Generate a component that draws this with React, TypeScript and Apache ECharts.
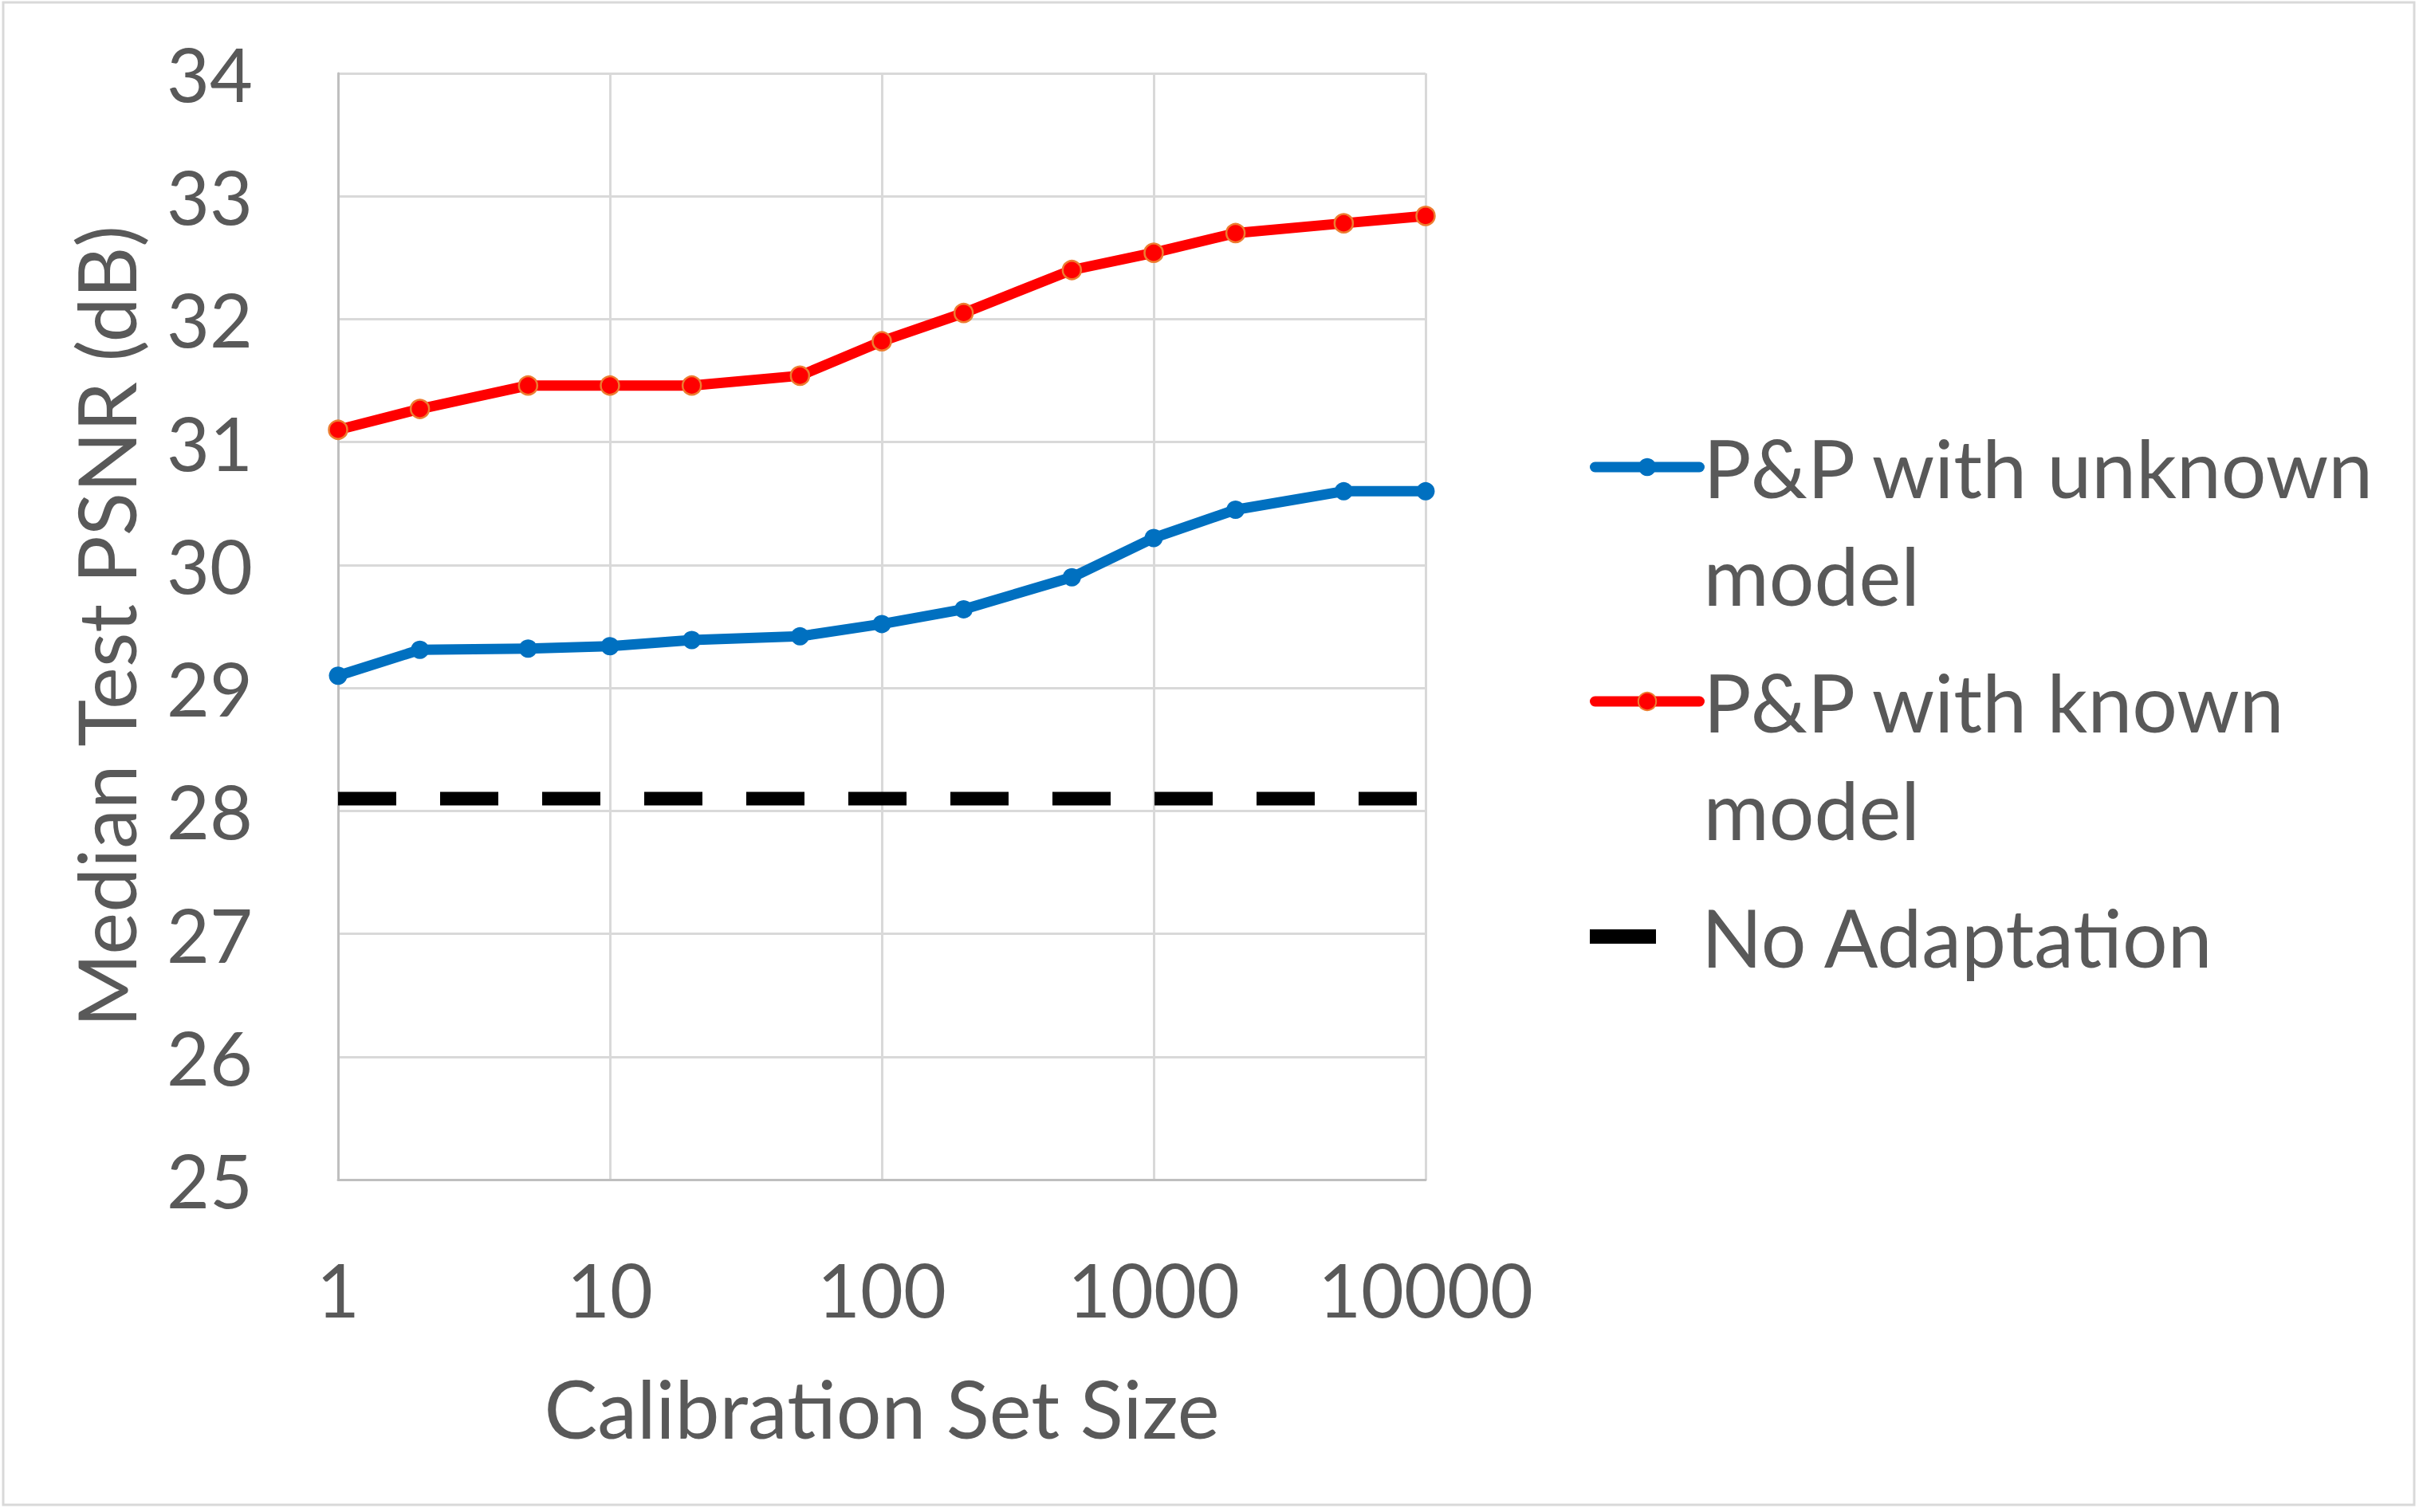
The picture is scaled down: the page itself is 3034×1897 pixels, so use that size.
import React, { useEffect, useRef } from "react";
import * as echarts from "echarts";

const calibrationSizes = [1, 2, 5, 10, 20, 50, 100, 200, 500, 1000, 2000, 5000, 10000];
const unknownModelPsnr = [29.1, 29.31, 29.32, 29.34, 29.39, 29.42, 29.52, 29.64, 29.9, 30.22, 30.45, 30.6, 30.6];
const knownModelPsnr = [31.1, 31.27, 31.46, 31.46, 31.46, 31.54, 31.82, 32.05, 32.4, 32.54, 32.7, 32.78, 32.84];
const noAdaptationPsnr = 28.1;
const seriesNames = ["P&P with unknown model", "P&P with known model", "No Adaptation"];
const legendLabels = ["P&P with unknown\nmodel", "P&P with known\nmodel", "No Adaptation"];
const xAxisRange = [1, 10000];
const yAxisRange = [25, 34];
const xAxisTitle = "Calibration Set Size";
const yAxisTitle = "Median Test PSNR (dB)";

const FONT = "Lato";
const TEXT = "#595959";
const FS = 93;
const FS_BIG = 100;
const LH = 135;

export default function App() {
  const ref = useRef<HTMLDivElement>(null);
  useEffect(() => {
    if (!ref.current) return;
    const chart = echarts.init(ref.current, undefined, { renderer: "svg" });
    const pair = (vals: number[]) => calibrationSizes.map((x, i) => [x, vals[i]]);
    const legendText = { fontFamily: FONT, fontSize: FS_BIG, color: TEXT, lineHeight: LH };
    chart.setOption({
      animation: false,
      backgroundColor: "#ffffff",
      textStyle: { fontFamily: FONT },
      grid: { left: 424, right: 1246, top: 92, bottom: 417, containLabel: false },
      graphic: [
        {
          type: "rect",
          shape: { x: 4, y: 3, width: 3024, height: 1885 },
          style: { fill: "none", stroke: "#D9D9D9", lineWidth: 3 },
          silent: true,
        },
      ],
      xAxis: {
        type: "log",
        logBase: 10,
        min: xAxisRange[0],
        max: xAxisRange[1],
        name: xAxisTitle,
        nameLocation: "middle",
        nameGap: 236,
        nameTextStyle: { fontFamily: FONT, fontSize: FS_BIG, color: TEXT },
        axisLine: { show: true, lineStyle: { color: "#BFBFBF", width: 3 } },
        axisTick: { show: false },
        minorTick: { show: false },
        axisLabel: {
          margin: 90,
          fontFamily: FONT,
          fontSize: FS,
          color: TEXT,
          formatter: (v: number) => String(Math.round(v)),
        },
        splitLine: { show: true, lineStyle: { color: "#D9D9D9", width: 3 } },
      },
      yAxis: {
        type: "value",
        min: yAxisRange[0],
        max: yAxisRange[1],
        interval: 1,
        name: yAxisTitle,
        nameLocation: "middle",
        nameRotate: 90,
        nameGap: 242,
        nameTextStyle: { fontFamily: FONT, fontSize: FS_BIG, color: TEXT },
        axisLine: { show: true, lineStyle: { color: "#BFBFBF", width: 3 } },
        axisTick: { show: false },
        axisLabel: { margin: 107, fontFamily: FONT, fontSize: FS, color: TEXT },
        splitLine: { show: true, lineStyle: { color: "#D9D9D9", width: 3 } },
      },
      legend: [
        {
          data: [seriesNames[0]],
          left: 1994,
          top: 383.5,
          padding: 0,
          itemWidth: 131,
          itemHeight: 28,
          lineStyle: { width: 13, cap: "round" },
          formatter: () => "\n" + legendLabels[0],
          textStyle: legendText,
        },
        {
          data: [seriesNames[1]],
          left: 1994,
          top: 677.5,
          padding: 0,
          itemWidth: 131,
          itemHeight: 28,
          lineStyle: { width: 13, cap: "round" },
          formatter: () => "\n" + legendLabels[1],
          textStyle: legendText,
        },
        {
          data: [{ name: seriesNames[2], icon: "rect", itemStyle: { color: "#000000" } }],
          left: 1994,
          top: 1107.5,
          padding: 0,
          itemWidth: 83,
          itemHeight: 18,
          formatter: () => legendLabels[2],
          textStyle: { ...legendText, padding: [0, 0, 0, 52] },
        },
      ],
      series: [
        {
          name: seriesNames[0],
          type: "line",
          data: pair(unknownModelPsnr),
          symbol: "circle",
          symbolSize: 23,
          lineStyle: { color: "#0070C0", width: 13, cap: "round", join: "round" },
          itemStyle: { color: "#0070C0" },
          z: 2,
        },
        {
          name: seriesNames[1],
          type: "line",
          data: pair(knownModelPsnr),
          symbol: "circle",
          symbolSize: 23,
          lineStyle: { color: "#FF0000", width: 13, cap: "round", join: "round" },
          itemStyle: { color: "#FF0000", borderColor: "#ED7D31", borderWidth: 2.5 },
          z: 3,
        },
        {
          name: seriesNames[2],
          type: "line",
          data: [
            [xAxisRange[0], noAdaptationPsnr],
            [xAxisRange[1], noAdaptationPsnr],
          ],
          symbol: "none",
          lineStyle: { color: "#000000", width: 17, type: [73, 55], cap: "butt" },
          itemStyle: { color: "#000000" },
          z: 4,
        },
      ],
    });
    return () => chart.dispose();
  }, []);
  return (
    <div
      ref={ref}
      style={{ position: "fixed", left: 0, top: 0, width: 3034, height: 1897 }}
    />
  );
}
